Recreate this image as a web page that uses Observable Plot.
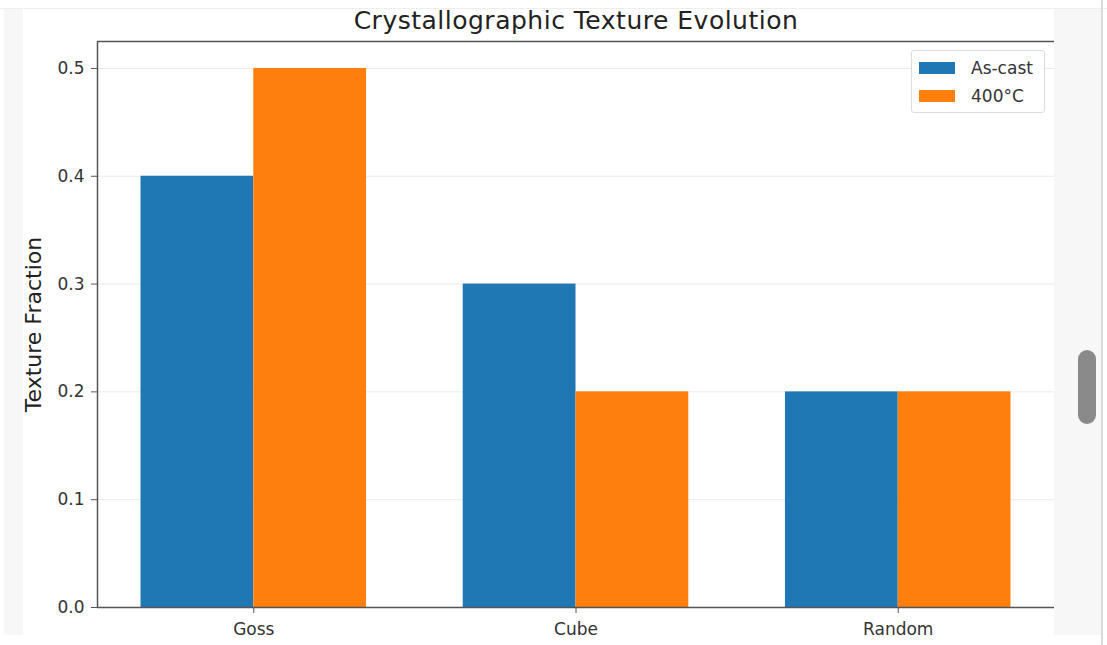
<!DOCTYPE html>
<html><head><meta charset="utf-8">
<script src="https://cdn.jsdelivr.net/npm/d3@7"></script>
<script src="https://cdn.jsdelivr.net/npm/@observablehq/plot@0.6"></script>
<style>
html,body{margin:0;padding:0;width:1107px;height:645px;overflow:hidden;background:#ffffff;font-family:"DejaVu Sans",sans-serif;}
#leftstrip{position:absolute;left:4px;top:9px;width:19px;height:626px;background:#f7f7f7;}
#topline{position:absolute;left:0;top:8px;width:1107px;height:1px;background:#eeeeee;}
#rightstrip{position:absolute;left:1054px;top:9px;width:48px;height:626px;background:#f7f7f7;}
#rightline{position:absolute;left:1101px;top:0;width:2px;height:645px;background:#d9d9d9;}
#thumb{position:absolute;left:1078px;top:350px;width:18px;height:74px;border-radius:9px;background:#8a8a8a;}
#chart{position:absolute;left:0;top:0;}
#title{position:absolute;left:0;width:1152px;top:6px;text-align:center;font-size:25px;line-height:30px;color:#222;letter-spacing:0.5px;}
#legend{position:absolute;left:911px;top:50px;width:132px;height:61px;border:1px solid #dcdcdc;border-radius:3px;background:rgba(255,255,255,0.85);font-size:17px;color:#333;}
.item{position:absolute;left:7px;height:16px;display:flex;align-items:center;}
.sw{width:36px;height:12px;margin-right:16px;}
</style></head>
<body>
<div id="topline"></div>
<div id="leftstrip"></div>
<div id="rightstrip"></div>
<div id="rightline"></div>
<div id="thumb"></div>
<div id="chart"></div>
<div id="title">Crystallographic Texture Evolution</div>
<div id="legend"></div>
<script>
const categories = ["Goss", "Cube", "Random"];
const asCast = [0.4, 0.3, 0.2];
const t400 = [0.5, 0.2, 0.2];
const seriesNames = ["As-cast", "400°C"];
const seriesColors = ["#1f77b4", "#ff7f0e"];
const yTicks = [0, 0.1, 0.2, 0.3, 0.4, 0.5];
const barWidth = 0.35;

const rows = [];
categories.forEach((c, i) => {
  rows.push({cat: c, i, series: seriesNames[0], value: asCast[i], x1: i - barWidth, x2: i});
  rows.push({cat: c, i, series: seriesNames[1], value: t400[i], x1: i, x2: i + barWidth});
});

const plot = Plot.plot({
  width: 1107,
  height: 645,
  marginLeft: 97,
  marginRight: 53,
  marginTop: 41,
  marginBottom: 38,
  style: {background: "transparent", fontFamily: "DejaVu Sans, sans-serif", fontSize: "17px", color: "#333"},
  x: {type: "linear", domain: [-0.485, 2.485], axis: null},
  y: {domain: [0, 0.525], axis: null},
  color: {domain: seriesNames, range: seriesColors},
  marks: [
    Plot.ruleY(yTicks, {stroke: "#ebebeb", strokeWidth: 1}),
    Plot.rectY(rows, {x1: "x1", x2: "x2", y1: 0, y2: "value", fill: "series", inset: 0}),
    Plot.axisY(yTicks, {anchor: "left", tickSize: 6, tickPadding: 7, tickFormat: d3.format(".1f"), stroke: "#555", fill: "#333", fontSize: 17, label: null}),
    Plot.axisX(categories.map((c, i) => i), {anchor: "bottom", tickSize: 6, tickPadding: 9, tickFormat: i => categories[i], stroke: "#555", fill: "#333", fontSize: 17, label: null}),
    Plot.ruleX([-0.485], {stroke: "#555", strokeWidth: 1.5}),
    Plot.ruleY([0], {stroke: "#555", strokeWidth: 1.5}),
    Plot.ruleY([0.525], {stroke: "#555", strokeWidth: 1.5}),
    Plot.text(["Texture Fraction"], {frameAnchor: "left", dx: -64, rotate: -90, textAnchor: "middle", fontSize: 22, fill: "#222"})
  ]
});
document.getElementById("chart").appendChild(plot);

const legend = document.getElementById("legend");
seriesNames.forEach((name, k) => {
  const it = document.createElement("div");
  it.className = "item";
  it.style.top = (9 + k * 28) + "px";
  it.innerHTML = `<div class="sw" style="background:${seriesColors[k]}"></div><span>${name}</span>`;
  legend.appendChild(it);
});
</script>
</body></html>
